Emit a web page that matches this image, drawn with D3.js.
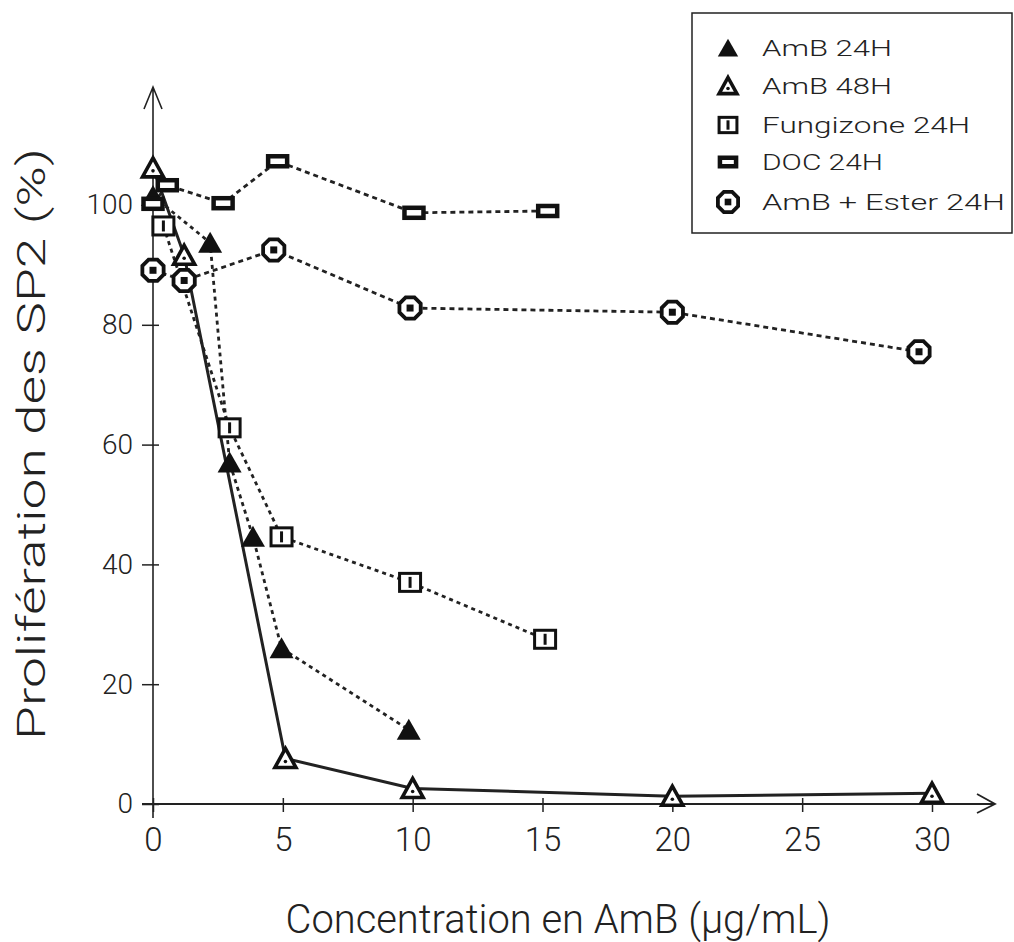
<!DOCTYPE html>
<html>
<head>
<meta charset="utf-8">
<script src="https://cdn.jsdelivr.net/npm/d3@7"></script>
<style>
  body { margin: 0; background: #fff; }
  svg { display: block; font-family: Roboto, "DejaVu Sans", sans-serif; font-weight: 300; }
</style>
</head>
<body>
<div id="chart"></div>
<script>
// values (concentration in µg/mL, proliferation in %)
const amb24X = [0, 2.2, 2.95, 3.85, 4.95, 9.85];
const amb24Y = [101.5, 93.7, 57, 44.6, 26, 12.4];

const amb48X = [0, 1.2, 5.1, 10, 20, 30];
const amb48Y = [106.2, 91.6, 7.6, 2.6, 1.3, 1.8];

const fungX = [0.4, 2.95, 4.95, 9.9, 15.1];
const fungY = [96.5, 62.8, 44.6, 37, 27.5];

const docX = [0, 0.55, 2.7, 4.8, 10.05, 15.2];
const docY = [100.2, 103.3, 100.3, 107.3, 98.7, 99];

const esterX = [0, 1.2, 4.65, 9.9, 20, 29.5];
const esterY = [89.1, 87.4, 92.5, 82.8, 82.1, 75.5];

const xTicks = [0, 5, 10, 15, 20, 25, 30];
const yTicks = [0, 20, 40, 60, 80, 100];

const legendLabels = ["AmB 24H", "AmB 48H", "Fungizone 24H", "DOC 24H", "AmB + Ester 24H"];

const xTitle = "Concentration en AmB (\u00b5g/mL)";
const yTitle = "Prolif\u00e9ration des SP2 (%)";

/** svg size and scales */
const width = 1014, height = 942;

const x = d3.scaleLinear().domain([0, 30]).range([153, 932]);
const y = d3.scaleLinear().domain([0, 100]).range([804, 205]);

const svg = d3.select("#chart")
  .append("svg")
  .attr("width", width)
  .attr("height", height)
;

const zip = (xs, ys) => xs.map((v, i) => [v, ys[i]]);

/** marker drawers, each draws at (0,0) inside a group */
const markers = {
  amb24: function(g, s) {
    g.append("path")
      .attr("d", "M0," + (-11 * s) + "L" + (12 * s) + "," + (10 * s) + "L" + (-12 * s) + "," + (10 * s) + "Z")
      .attr("fill", "#111")
    ;
  },
  amb48: function(g, s) {
    g.append("path")
      .attr("d", "M0," + (-10 * s) + "L" + (10.5 * s) + "," + (9 * s) + "L" + (-10.5 * s) + "," + (9 * s) + "Z")
      .attr("fill", "#fff")
      .attr("stroke", "#111")
      .attr("stroke-width", 3.6)
      .attr("stroke-linejoin", "miter")
    ;
    g.append("circle").attr("cx", 0).attr("cy", 3 * s).attr("r", 1.8).attr("fill", "#111");
  },
  fung: function(g, s) {
    g.append("rect")
      .attr("x", -10.5 * s).attr("y", -9 * s)
      .attr("width", 21 * s).attr("height", 18 * s)
      .attr("fill", "#fff")
      .attr("stroke", "#111")
      .attr("stroke-width", 3)
    ;
    g.append("rect")
      .attr("x", -1.5).attr("y", -5.5 * s)
      .attr("width", 3).attr("height", 11 * s)
      .attr("fill", "#111")
    ;
  },
  doc: function(g, s) {
    g.append("rect")
      .attr("x", -9.5 * s).attr("y", -5 * s)
      .attr("width", 19 * s).attr("height", 10 * s)
      .attr("fill", "#fff")
      .attr("stroke", "#111")
      .attr("stroke-width", 4.5)
    ;
  },
  ester: function(g, s) {
    const r = 11.5 * s;
    const pts = d3.range(8).map(i => {
      const a = Math.PI / 8 + i * Math.PI / 4;
      return [r * Math.cos(a), r * Math.sin(a)];
    });
    g.append("path")
      .attr("d", "M" + pts.map(p => p.join(",")).join("L") + "Z")
      .attr("fill", "#fff")
      .attr("stroke", "#111")
      .attr("stroke-width", 3.8)
    ;
    g.append("rect")
      .attr("x", -3.5 * s).attr("y", -3.5 * s)
      .attr("width", 7 * s).attr("height", 7 * s)
      .attr("fill", "#111")
    ;
  }
};

const series = [
  { key: "amb48", data: zip(amb48X, amb48Y), dash: null },
  { key: "amb24", data: zip(amb24X, amb24Y), dash: "4,4" },
  { key: "fung", data: zip(fungX, fungY), dash: "4,4" },
  { key: "doc", data: zip(docX, docY), dash: "5,4" },
  { key: "ester", data: zip(esterX, esterY), dash: "5,4" }
];

/** axes */
const xAxis = d3.axisBottom(x)
  .tickValues(xTicks)
  .tickSize(8)
  .tickPadding(16)
;
const yAxis = d3.axisLeft(y)
  .tickValues(yTicks)
  .tickSize(11)
  .tickPadding(9)
;

const gx = svg.append("g")
  .attr("transform", "translate(0," + y(0) + ")")
  .call(xAxis)
;
gx.select("path.domain").remove();
gx.selectAll(".tick line").attr("y1", -6).attr("stroke", "#222").attr("stroke-width", 1.5);
gx.selectAll(".tick text")
  .attr("fill", "#222")
  .style("font-size", "33px")
  .style("font-family", "Roboto, sans-serif")
  .style("font-weight", 300)
;

const gy = svg.append("g")
  .attr("transform", "translate(" + x(0) + ",0)")
  .call(yAxis)
;
gy.select("path.domain").remove();
gy.selectAll(".tick line").attr("x1", 6).attr("stroke", "#222").attr("stroke-width", 1.5);
gy.selectAll(".tick text")
  .attr("fill", "#222")
  .style("font-size", "28px")
  .style("font-family", "Roboto, sans-serif")
  .style("font-weight", 300)
;

// axis lines with open arrow heads
svg.append("path")
  .attr("d", "M" + x(0) + ",818V87M" + (x(0) - 9) + ",109L" + x(0) + ",87L" + (x(0) + 9) + ",109")
  .attr("fill", "none")
  .attr("stroke", "#222")
  .attr("stroke-width", 1.6)
;
svg.append("path")
  .attr("d", "M142," + y(0) + "H995M977,794L995," + y(0) + "L977,813")
  .attr("fill", "none")
  .attr("stroke", "#222")
  .attr("stroke-width", 1.8)
;

/** axis titles */
svg.append("text")
  .attr("x", 558)
  .attr("y", 933)
  .attr("text-anchor", "middle")
  .attr("textLength", 545)
  .attr("lengthAdjust", "spacingAndGlyphs")
  .attr("fill", "#222")
  .style("font-size", "40px")
  .text(xTitle)
;
svg.append("text")
  .attr("transform", "translate(45,444) rotate(-90)")
  .attr("text-anchor", "middle")
  .attr("textLength", 592)
  .attr("lengthAdjust", "spacingAndGlyphs")
  .attr("fill", "#222")
  .style("font-size", "39px")
  .text(yTitle)
;

/** lines */
const line = d3.line().x(d => x(d[0])).y(d => y(d[1]));

svg.append("g")
  .selectAll("path")
  .data(series)
  .enter()
  .append("path")
  .attr("d", d => line(d.data))
  .attr("fill", "none")
  .attr("stroke", "#222")
  .attr("stroke-width", d => d.dash ? 2.8 : 3)
  .attr("stroke-dasharray", d => d.dash)
;

/** markers */
series.forEach(function(s) {
  svg.append("g")
    .selectAll("g")
    .data(s.data)
    .enter()
    .append("g")
    .attr("transform", d => "translate(" + x(d[0]) + "," + y(d[1]) + ")")
    .each(function() { markers[s.key](d3.select(this), 1); })
  ;
});

/** legend */
const legend = svg.append("g").attr("id", "legend");
legend.append("rect")
  .attr("x", 692).attr("y", 13)
  .attr("width", 320).attr("height", 220)
  .attr("fill", "#fff")
  .attr("stroke", "#222")
  .attr("stroke-width", 1.5)
;
const legendKeys = ["amb24", "amb48", "fung", "doc", "ester"];
const legendRowY = [48, 86, 125, 162, 202];
const legendTextLen = [130, 130, 208, 121, 243];
legendKeys.forEach(function(k, i) {
  const g = legend.append("g").attr("transform", "translate(728," + legendRowY[i] + ")");
  markers[k](g, k === "ester" ? 0.95 : 0.85);
  legend.append("text")
    .attr("x", 762)
    .attr("y", legendRowY[i] + 8)
    .attr("textLength", legendTextLen[i])
    .attr("lengthAdjust", "spacingAndGlyphs")
    .attr("fill", "#222")
    .style("font-size", "22px")
    .text(legendLabels[i])
  ;
});
</script>
</body>
</html>
